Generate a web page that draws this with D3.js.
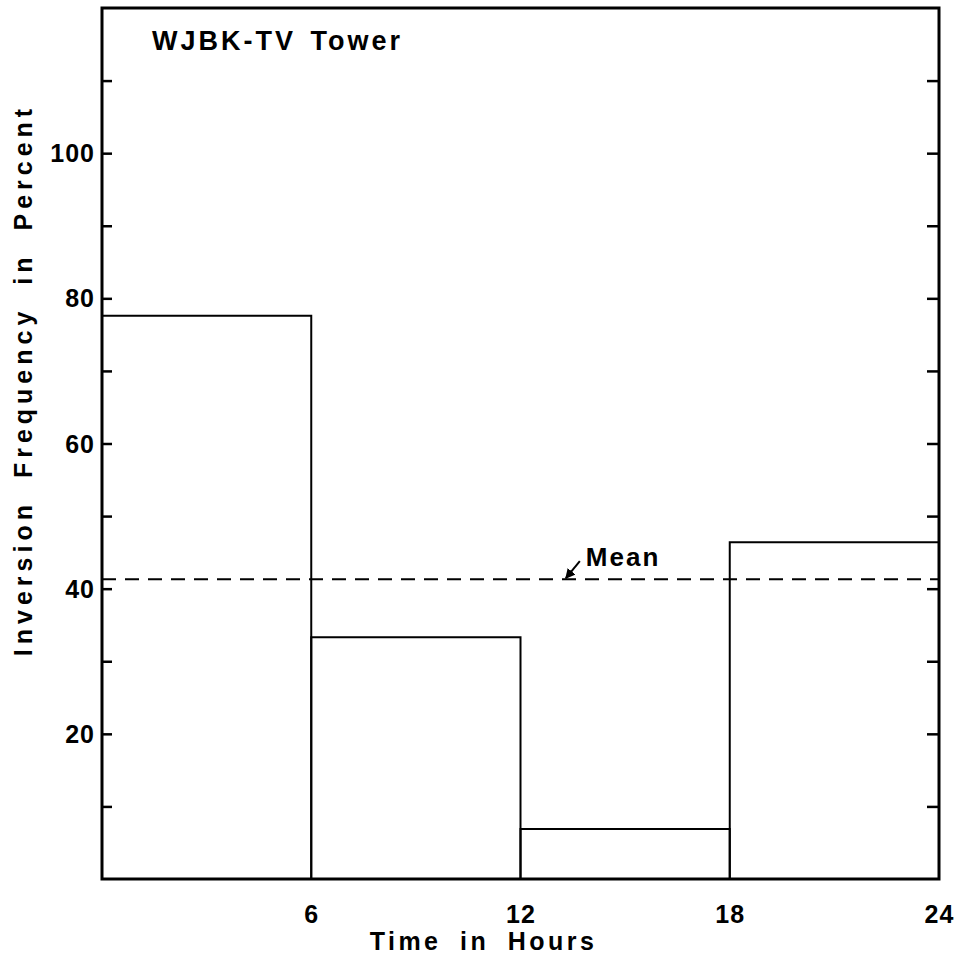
<!DOCTYPE html>
<html>
<head>
<meta charset="utf-8">
<script src="https://cdn.jsdelivr.net/npm/d3@7"></script>
<style>
  body { margin: 0; background: #fff; }
  text { font-family: "Liberation Sans", Arial, sans-serif; font-weight: bold; fill: #000; }
</style>
</head>
<body>
<div id="chart"></div>
<script>
// Data
var binStarts = [0, 6, 12, 18];
var binEnds = [6, 12, 18, 24];
var frequency = [77.6, 33.3, 6.9, 46.4];
var meanValue = 41.3;
var xTickValues = [6, 12, 18, 24];
var yLabelValues = [20, 40, 60, 80, 100];
var yTickValues = [10, 20, 30, 40, 50, 60, 70, 80, 90, 100, 110];

var svgWidth = 964;
var svgHeight = 962;

var margin = { top: 8, right: 25, bottom: 83, left: 102 };
var chartWidth = svgWidth - margin.left - margin.right;
var chartHeight = svgHeight - margin.top - margin.bottom;

var svg = d3.select("#chart")
  .append("svg")
  .attr("width", svgWidth)
  .attr("height", svgHeight);

var chartGroup = svg.append("g")
  .attr("transform", `translate(${margin.left}, ${margin.top})`);

var xScale = d3.scaleLinear().domain([0, 24]).range([0, chartWidth]);
var yScale = d3.scaleLinear().domain([0, 120]).range([chartHeight, 0]);

// Left axis: inward ticks, labels at every 20
var leftAxis = d3.axisRight(yScale)
  .tickValues(yTickValues)
  .tickSize(10)
  .tickFormat("");
var leftG = chartGroup.append("g").call(leftAxis);
leftG.select(".domain").remove();
leftG.selectAll("line").attr("stroke-width", 2.5);

chartGroup.selectAll(".ylab")
  .data(yLabelValues)
  .enter().append("text")
  .attr("class", "ylab")
  .attr("x", -7)
  .attr("y", d => yScale(d))
  .attr("dy", "0.36em")
  .attr("text-anchor", "end")
  .style("font-size", "25px")
  .style("letter-spacing", "1px")
  .text(d => d);

// Right axis: inward ticks
var rightAxis = d3.axisLeft(yScale)
  .tickValues(yTickValues)
  .tickSize(12)
  .tickFormat("");
var rightG = chartGroup.append("g")
  .attr("transform", `translate(${chartWidth}, 0)`)
  .call(rightAxis);
rightG.select(".domain").remove();
rightG.selectAll("line").attr("stroke-width", 2.5);

// Bottom labels
var bottomAxis = d3.axisBottom(xScale)
  .tickValues(xTickValues)
  .tickSize(0)
  .tickPadding(26);
var bottomG = chartGroup.append("g")
  .attr("transform", `translate(0, ${chartHeight})`)
  .call(bottomAxis);
bottomG.select(".domain").remove();
bottomG.selectAll("text")
  .style("font-family", "'Liberation Sans', Arial, sans-serif")
  .style("font-weight", "bold")
  .style("font-size", "25px")
  .style("letter-spacing", "1px");

// Histogram outline
var bars = binStarts.map((s, i) => ({ x0: s, x1: binEnds[i], v: frequency[i] }));
chartGroup.selectAll(".bar")
  .data(bars)
  .enter().append("path")
  .attr("class", "bar")
  .attr("fill", "none")
  .attr("stroke", "#000")
  .attr("stroke-width", 2)
  .attr("d", d => `M${xScale(d.x0)},${yScale(0)}V${yScale(d.v)}H${xScale(d.x1)}V${yScale(0)}`);

// Mean line
chartGroup.append("line")
  .attr("x1", xScale(0))
  .attr("x2", xScale(24))
  .attr("y1", yScale(meanValue))
  .attr("y2", yScale(meanValue))
  .attr("stroke", "#000")
  .attr("stroke-width", 2)
  .attr("stroke-dasharray", "14,9");

// Mean label with arrow
svg.append("defs").append("marker")
  .attr("id", "arrow")
  .attr("viewBox", "0 0 10 10")
  .attr("refX", 9).attr("refY", 5)
  .attr("markerWidth", 5).attr("markerHeight", 5)
  .attr("orient", "auto")
  .append("path")
  .attr("d", "M0,0L10,5L0,10z")
  .attr("fill", "#000");

var meanX = xScale(13.3);
var meanY = yScale(meanValue);
chartGroup.append("line")
  .attr("x1", meanX + 14)
  .attr("y1", meanY - 18)
  .attr("x2", meanX)
  .attr("y2", meanY - 1)
  .attr("stroke", "#000")
  .attr("stroke-width", 2)
  .attr("marker-end", "url(#arrow)");

chartGroup.append("text")
  .attr("x", meanX + 20)
  .attr("y", meanY - 13)
  .style("font-size", "26px")
  .style("letter-spacing", "2px")
  .text("Mean");

// Frame
chartGroup.append("rect")
  .attr("x", 0).attr("y", 0)
  .attr("width", chartWidth).attr("height", chartHeight)
  .attr("fill", "none")
  .attr("stroke", "#000")
  .attr("stroke-width", 3);

// Title inside the plot
chartGroup.append("text")
  .attr("x", 50)
  .attr("y", 42)
  .style("font-size", "27px")
  .style("letter-spacing", "3px")
  .style("word-spacing", "4px")
  .text("WJBK-TV Tower");

// Axis titles
svg.append("text")
  .attr("x", margin.left + xScale(12) - 37)
  .attr("y", 950)
  .attr("text-anchor", "middle")
  .style("font-size", "25px")
  .style("letter-spacing", "3.5px")
  .style("word-spacing", "8px")
  .text("Time in Hours");

svg.append("text")
  .attr("transform", "translate(32, 380) rotate(-90)")
  .attr("text-anchor", "middle")
  .style("font-size", "25px")
  .style("letter-spacing", "5px")
  .style("word-spacing", "10px")
  .text("Inversion Frequency in Percent");
</script>
</body>
</html>
